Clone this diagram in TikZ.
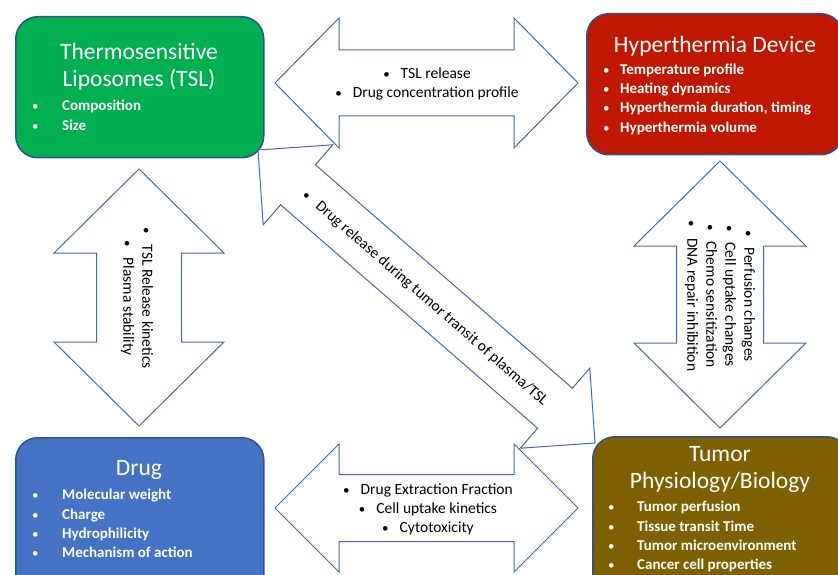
\documentclass[tikz,border=0pt]{standalone}
\usepackage{fontspec}
\setmainfont{Carlito}
\usetikzlibrary{calc,positioning}

\definecolor{tslgreen}{RGB}{0,176,80}
\definecolor{hypred}{RGB}{192,24,0}
\definecolor{drugblue}{RGB}{68,114,196}
\definecolor{tumbrown}{RGB}{127,96,0}
\definecolor{boxline}{RGB}{47,82,143}
\definecolor{arrline}{RGB}{68,104,170}

\tikzset{
  box/.style={draw=boxline, line width=1.5pt, rounded corners=22pt, anchor=north west, inner sep=0pt},
  boxtitle/.style={text=white, font=\fontsize{23.5}{27}\selectfont, align=center, inner sep=0pt},
  boxlist/.style={text=white, font=\bfseries\fontsize{15}{19.3}\selectfont, align=left, anchor=north west, inner sep=0pt},
  blockarrow/.style={draw=arrline, line width=1pt, fill=white, line join=miter},
  arrtext/.style={font=\fontsize{15.5}{19}\selectfont, align=center, inner sep=0pt}
}

% bullet with hanging indent
\newcommand\itm[1]{\makebox[#1][l]{\mdseries\fontsize{13}{19}\selectfont\textbullet}}
\newcommand\abul{{\fontsize{13}{19}\selectfont\textbullet}\hspace{11pt}}
% block arrow: tip, tip, shaft half width, head half width, head length
\newcommand\blockarrow[5]{%
  \draw[blockarrow] (#1)
    -- ($(#1)!#5!(#2)!#4!90:(#2)$)
    -- ($(#1)!#5!(#2)!#3!90:(#2)$)
    -- ($(#2)!#5!(#1)!#3!-90:(#1)$)
    -- ($(#2)!#5!(#1)!#4!-90:(#1)$)
    -- (#2)
    -- ($(#2)!#5!(#1)!#4!90:(#1)$)
    -- ($(#2)!#5!(#1)!#3!90:(#1)$)
    -- ($(#1)!#5!(#2)!#3!-90:(#2)$)
    -- ($(#1)!#5!(#2)!#4!-90:(#2)$)
    -- cycle;}

\begin{document}
\begin{tikzpicture}[x=1pt, y=-1pt]
  \useasboundingbox (0,0) rectangle (838,575);
  \clip (0,0) rectangle (838,575);

  % boxes
  \node[box, fill=tslgreen, minimum width=248pt, minimum height=141pt] (tsl) at (15,16) {};
  \node[box, fill=hypred, minimum width=256pt, minimum height=141pt] (hyp) at (586,13) {};
  \node[box, fill=drugblue, minimum width=248pt, minimum height=170pt] (drug) at (15,437) {};
  \node[box, fill=tumbrown, minimum width=256pt, minimum height=170pt] (tum) at (592,436) {};

  \node[boxtitle] (tsltitle) at (139,66.5) {Thermosensitive\\Liposomes (TSL)};
  \node[boxlist] (tsllist) at (32,100) {\itm{30pt}Composition\\\itm{30pt}Size};

  \node[boxtitle] (hyptitle) at (715,46.5) {Hyperthermia Device};
  \node[boxlist] (hyplist) at (603,63.5) {\itm{17pt}Temperature profile\\\itm{17pt}Heating dynamics\\
    \itm{17pt}Hyperthermia duration, timing\\\itm{17pt}Hyperthermia volume};

  \node[boxtitle] (drugtitle) at (139,470) {Drug};
  \node[boxlist] (druglist) at (32,489) {\itm{30pt}Molecular weight\\\itm{30pt}Charge\\
    \itm{30pt}Hydrophilicity\\\itm{30pt}Mechanism of action};

  \node[boxtitle] (tumtitle) at (720,469) {Tumor\\Physiology/Biology};
  \node[boxlist] (tumlist) at (608,501) {\itm{29pt}Tumor perfusion\\\itm{29pt}Tissue transit Time\\
    \itm{29pt}Tumor microenvironment\\\itm{29pt}Cancer cell properties};

  % arrow tips
  \coordinate (tslhyp1) at (275,83);
  \coordinate (tslhyp2) at (578,83);
  \coordinate (drugtum1) at (275,508);
  \coordinate (drugtum2) at (578,508);
  \coordinate (tsldrug1) at (139,169);
  \coordinate (tsldrug2) at (139,426);
  \coordinate (hyptum1) at (720,161);
  \coordinate (hyptum2) at (720,428);
  \coordinate (tsltum1) at (258,150);
  \coordinate (tsltum2) at (595,443);

  \blockarrow{tslhyp1}{tslhyp2}{33pt}{65pt}{64pt}
  \blockarrow{drugtum1}{drugtum2}{33.5pt}{64pt}{64pt}
  \blockarrow{tsldrug1}{tsldrug2}{42.5pt}{85pt}{84pt}
  \blockarrow{hyptum1}{hyptum2}{43.5pt}{86pt}{85pt}
  \blockarrow{tsltum1}{tsltum2}{26.5pt}{53pt}{53pt}

  \node[arrtext] (tslhyptext) at (427,84) {\abul TSL release\\\abul Drug concentration profile};
  \node[arrtext] (drugtumtext) at (428,509) {\abul Drug Extraction Fraction\\\abul Cell uptake kinetics\\\abul Cytotoxicity};
  \node[arrtext, rotate=-90] (tsldrugtext) at (137,298) {\abul TSL Release kinetics\\\abul Plasma stability};
  \node[arrtext, rotate=-90] (hyptumtext) at (720,296) {\abul Perfusion changes\\\abul Cell uptake changes\\
    \abul Chemo sensitization\\\abul DNA repair inhibition};
  \node[arrtext, rotate=-41] (tsltumtext) at (425,298) {\abul Drug release during tumor transit of plasma/TSL};
\end{tikzpicture}
\end{document}
